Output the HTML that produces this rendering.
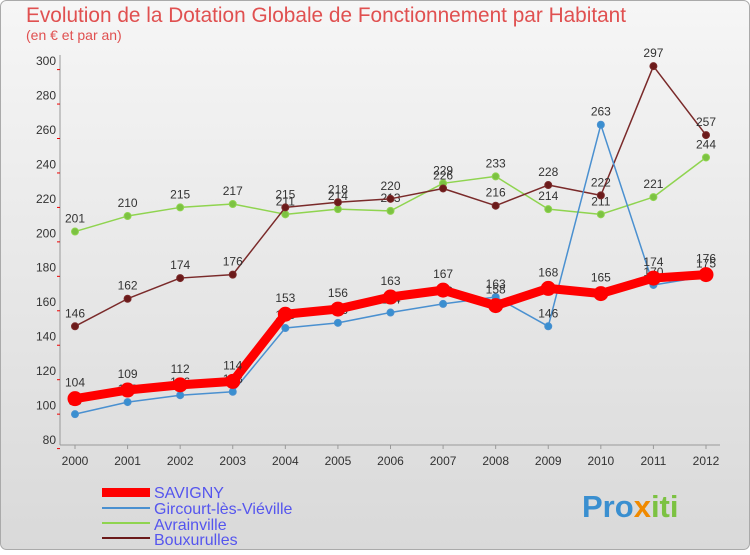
<!DOCTYPE html>
<html><head><meta charset="utf-8"><style>
body{margin:0;width:750px;height:550px;overflow:hidden;font-family:"Liberation Sans",sans-serif}
svg text{font-family:"Liberation Sans",sans-serif}
</style></head><body>
<svg width="750" height="550">
<defs><linearGradient id="bg" x1="0" y1="0" x2="0" y2="1"><stop offset="0" stop-color="#f6f6f6"/><stop offset="1" stop-color="#d9d9d9"/></linearGradient></defs>
<rect x="0.5" y="0.5" width="749" height="549" rx="6" fill="url(#bg)" stroke="#aaa"/>
<text x="26" y="22" font-size="20.8" fill="#e05050">Evolution de la Dotation Globale de Fonctionnement par Habitant</text>
<text x="26" y="40" font-size="14" fill="#e05050">(en € et par an)</text>
<g id="axes"></g><g id="series"></g>
<g>
<rect x="102" y="488" width="48" height="9" fill="#f00"/>
<text x="154" y="498" font-size="16" fill="#5555ee">SAVIGNY</text>
<rect x="102" y="507" width="48" height="2" fill="#4a90d0"/>
<text x="154" y="514" font-size="16" fill="#5555ee">Gircourt-lès-Viéville</text>
<rect x="102" y="522" width="48" height="2" fill="#8fd44f"/>
<text x="154" y="530" font-size="16" fill="#5555ee">Avrainville</text>
<rect x="102" y="537" width="48" height="2" fill="#6b1a1a"/>
<text x="154" y="545" font-size="16" fill="#5555ee">Bouxurulles</text>
</g>
<text x="582" y="517" font-size="31" font-weight="bold" fill="#3a8fd0">Pro<tspan fill="#f08a00">x</tspan><tspan fill="#7cc242">iti</tspan></text>
</svg>
<script>
const years=["2000","2001","2002","2003","2004","2005","2006","2007","2008","2009","2010","2011","2012"];
const yTicks=[80,100,120,140,160,180,200,220,240,260,280,300];
const savigny=[104,109,112,114,153,156,163,167,158,168,165,174,176];
const gircourt=[95,102,106,108,145,148,154,159,163,146,263,170,175];
const avrainville=[201,210,215,217,211,214,213,229,233,214,211,221,244];
const bouxurulles=[146,162,174,176,215,218,220,226,216,228,222,297,257];
const NS="http://www.w3.org/2000/svg";
const X=i=>75+i*(706-75)/12;
const Y=v=>440-(v-80)*(440-61)/220;
function mk(t,a,p){const e=document.createElementNS(NS,t);for(const k in a)e.setAttribute(k,a[k]);p.appendChild(e);return e;}
const ax=document.getElementById('axes');
const yl=mk('line',{x1:60,y1:55,x2:60,y2:445,stroke:'#999'},ax);


const xl=mk('line',{x1:60,y1:445,x2:720,y2:445,stroke:'#999'},ax);


yTicks.forEach(v=>{const t=mk('text',{x:56,y:Y(v)+4,'font-size':12,'text-anchor':'end',fill:'#333'},ax);t.textContent=v;


mk('line',{x1:57,y1:Y(v)+8.6,x2:60,y2:Y(v)+8.6,stroke:'#e00'},ax);});
years.forEach((y,i)=>{const t=mk('text',{x:X(i),y:465,'font-size':12,'text-anchor':'middle',fill:'#333'},ax);t.textContent=y;


mk('line',{x1:X(i),y1:445,x2:X(i),y2:449,stroke:'#999'},ax);});
const sg=document.getElementById('series');
function draw(vals,color,w,r,name,dot,labelDy){
const g=mk('g',{},sg);


mk('polyline',{points:vals.map((v,i)=>X(i)+','+Y(v)).join(' '),fill:'none',stroke:color,'stroke-width':w,'stroke-linejoin':'round'},g);
vals.forEach((v,i)=>{const c=mk('circle',{cx:X(i),cy:Y(v),r:r,fill:dot,stroke:color,'stroke-width':1},g);


const t=mk('text',{x:X(i),y:Y(v)+labelDy,'font-size':12,'text-anchor':'middle',fill:'#333'},g);t.textContent=v;

});
}
draw(avrainville,'#8fd44f',1.5,3.5,'avrainville','#7cc242',-9);
draw(bouxurulles,'#7a2a2a',1.5,3.5,'bouxurulles','#6b1a1a',-9);
draw(gircourt,'#4a90d0',1.5,3.5,'gircourt','#3a8fd0',-9);
draw(savigny,'#f00',9,7,'savigny','#f00',-12);
</script>
</body></html>
